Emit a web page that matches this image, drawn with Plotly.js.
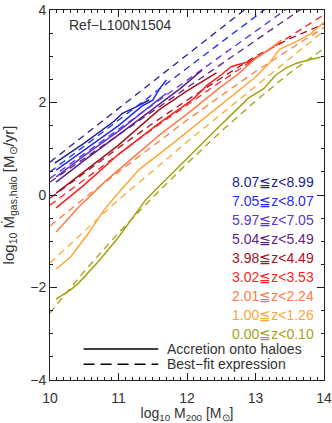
<!DOCTYPE html>
<html>
<head>
<meta charset="utf-8">
<script src="https://cdn.plot.ly/plotly-3.0.1.min.js"></script>
<style>
  html, body { margin: 0; padding: 0; background: #fff; }
  #plot { width: 332px; height: 423px; }
</style>
</head>
<body>
<div id="plot"></div>
<script>
// redshift bins, top to bottom in the label list
const zLabels = ['8.07≦z<8.99', '7.05≦z<8.07', '5.97≦z<7.05', '5.04≦z<5.49',
  '3.98≦z<4.49', '3.02≦z<3.53', '2.01≦z<2.24', '1.00≦z<1.26', '0.00≦z<0.10'];
const zColors = ['#23238f', '#1f2cf5', '#5a34d8', '#5e1f86',
  '#a5121e', '#fb1f1f', '#ff7b45', '#ffa634', '#a3a312'];

// accretion onto haloes (solid), log10 M200 vs log10 Mdot
const accM_z8 = [10.07, 10.5, 10.94, 11.05, 11.25, 11.45];
const accR_z8 = [0.69, 1.12, 1.6, 1.76, 1.9, 2.06];
const accM_z7 = [10.09, 10.5, 11.0, 11.35, 11.5, 11.6, 11.7];
const accR_z7 = [0.54, 0.98, 1.5, 1.93, 2.05, 2.3, 2.49];
const accM_z6 = [10.09, 10.5, 11.0, 11.4, 11.7];
const accR_z6 = [0.39, 0.85, 1.38, 1.85, 2.2];
const accM_z5 = [10.09, 10.5, 11.0, 11.5, 11.9, 12.22];
const accR_z5 = [0.28, 0.75, 1.3, 1.86, 2.3, 2.7];
const accM_z4 = [10.09, 10.5, 11.0, 11.59, 12.0, 12.43];
const accR_z4 = [0.04, 0.5, 1.08, 1.84, 2.25, 2.64];
const accM_z3 = [10.09, 10.5, 11.0, 11.59, 12.07, 12.3, 12.5, 12.65, 12.9, 13.12];
const accR_z3 = [-0.28, 0.22, 0.88, 1.55, 2.05, 2.38, 2.6, 2.78, 2.88, 3.07];
const accM_z2 = [10.09, 10.42, 10.81, 11.2, 11.6, 12.0, 12.46, 12.75, 13.04, 13.2, 13.38];
const accR_z2 = [-0.8, -0.26, 0.3, 0.8, 1.3, 1.75, 2.3, 2.62, 3.0, 3.15, 3.35];
const accM_z1 = [10.09, 10.3, 10.55, 10.8, 11.0, 11.3, 11.78, 12.28, 12.7, 13.0, 13.2, 13.35, 13.6, 13.8, 14.0];
const accR_z1 = [-1.6, -1.34, -0.85, -0.3, 0.05, 0.55, 1.1, 1.7, 2.2, 2.55, 2.85, 3.15, 3.32, 3.48, 3.74];
const accM_z0 = [10.09, 10.3, 10.42, 10.6, 10.7, 10.98, 11.2, 11.4, 11.6, 11.8, 12.0, 12.2, 12.4, 12.72, 12.9, 13.12, 13.3, 13.45, 13.6, 13.8, 13.95];
const accR_z0 = [-2.25, -2.05, -1.9, -1.6, -1.45, -0.95, -0.5, -0.1, 0.2, 0.5, 0.8, 1.08, 1.38, 1.84, 2.1, 2.3, 2.6, 2.75, 2.85, 2.93, 2.98];

// best-fit expression (dashed)
const fitM = [10, 10.5, 11, 11.5, 12, 12.5, 13, 13.5, 14];
const fitR_z8 = [0.71, 1.29, 1.87, 2.45, 3.03, 3.61, 4.19, 4.77, 5.35];
const fitR_z7 = [0.5, 1.06, 1.62, 2.18, 2.74, 3.3, 3.86, 4.42, 4.98];
const fitR_z6 = [0.36, 0.89, 1.42, 1.95, 2.48, 3.01, 3.54, 4.07, 4.6];
const fitR_z5 = [0.28, 0.79, 1.3, 1.81, 2.32, 2.83, 3.34, 3.85, 4.36];
const fitR_z4 = [-0.07, 0.48, 1.02, 1.55, 2.05, 2.53, 3.0, 3.38, 3.7];
const fitR_z3 = [-0.22, 0.34, 0.88, 1.43, 1.95, 2.46, 2.95, 3.43, 3.9];
const fitR_z2 = [-0.67, -0.07, 0.5, 1.07, 1.62, 2.15, 2.67, 3.15, 3.62];
const fitR_z1 = [-1.47, -0.78, -0.1, 0.52, 1.15, 1.75, 2.35, 2.95, 3.55];
const fitR_z0 = [-2.55, -1.65, -0.82, -0.05, 0.68, 1.38, 2.03, 2.64, 3.17];

const accM = [accM_z8, accM_z7, accM_z6, accM_z5, accM_z4, accM_z3, accM_z2, accM_z1, accM_z0];
const accR = [accR_z8, accR_z7, accR_z6, accR_z5, accR_z4, accR_z3, accR_z2, accR_z1, accR_z0];
const fitR = [fitR_z8, fitR_z7, fitR_z6, fitR_z5, fitR_z4, fitR_z3, fitR_z2, fitR_z1, fitR_z0];

const font = 'Liberation Sans, Arial, sans-serif';
const textColor = '#333';
const traces = [];

for (let i = 0; i < zLabels.length; i++) {
  traces.push({
    x: fitM, y: fitR[i], mode: 'lines', showlegend: false, hoverinfo: 'skip',
    line: { color: zColors[i], width: 1.3, dash: '7px,5px' }
  });
  traces.push({
    x: accM[i], y: accR[i], mode: 'lines', name: zLabels[i], showlegend: false,
    line: { color: zColors[i], width: 1.5 }
  });
}

// labels for the redshift bins
const annotations = zLabels.map((t, i) => ({
  x: 13.88, y: 0.28 - 0.41 * i, xref: 'x', yref: 'y',
  xanchor: 'right', yanchor: 'middle', showarrow: false,
  text: t, font: { family: font, size: 14, color: zColors[i] }
}));

annotations.push({
  x: 10.25, y: 3.68, xref: 'x', yref: 'y', xanchor: 'left', yanchor: 'middle',
  showarrow: false, text: 'Ref−L100N1504', font: { family: font, size: 14, color: textColor }
});
annotations.push({
  x: 11.68, y: -3.33, xref: 'x', yref: 'y', xanchor: 'left', yanchor: 'middle',
  showarrow: false, text: 'Accretion onto haloes', font: { family: font, size: 14, color: textColor }
});
annotations.push({
  x: 11.68, y: -3.66, xref: 'x', yref: 'y', xanchor: 'left', yanchor: 'middle',
  showarrow: false, text: 'Best−fit expression', font: { family: font, size: 14, color: textColor }
});

// key samples for the two line styles
const shapes = [
  { type: 'line', xref: 'x', yref: 'y', x0: 10.49, x1: 11.58, y0: -3.33, y1: -3.33,
    line: { color: '#000', width: 1.5 } },
  { type: 'line', xref: 'x', yref: 'y', x0: 10.49, x1: 11.58, y0: -3.66, y1: -3.66,
    line: { color: '#000', width: 1.5, dash: '11px,6px' } }
];

const axisCommon = {
  showgrid: false, zeroline: false, showline: true, linecolor: '#222', linewidth: 1,
  mirror: 'allticks', ticks: 'inside', ticklen: 7, tickcolor: '#222',
  ticklabeloverflow: 'allow',
  tickfont: { family: font, size: 14, color: textColor }
};

const layout = {
  width: 332, height: 423,
  margin: { l: 50, r: 8, t: 10, b: 43 },
  paper_bgcolor: '#fff', plot_bgcolor: '#fff',
  showlegend: false,
  xaxis: Object.assign({}, axisCommon, {
    range: [10, 14], dtick: 1, tick0: 10, ticklabelstandoff: 5,
    minor: { ticks: 'inside', dtick: 0.1, ticklen: 3, tickcolor: '#222' },
    title: { text: 'log<sub>10</sub> M<sub>200</sub> [M<sub>⊙</sub>]', standoff: 6,
      font: { family: font, size: 14, color: textColor } }
  }),
  yaxis: Object.assign({}, axisCommon, {
    range: [-4, 4], dtick: 2, tick0: 0,
    minor: { ticks: 'inside', dtick: 0.5, ticklen: 3, tickcolor: '#222' },
    title: { text: 'log<sub>10</sub> Ṁ<sub>gas,halo</sub> [M<sub>⊙</sub>/yr]', standoff: 15,
      font: { family: font, size: 15, color: textColor } }
  }),
  annotations,
  shapes
};

Plotly.newPlot('plot', traces, layout, { staticPlot: true, displayModeBar: false });
</script>
</body>
</html>
